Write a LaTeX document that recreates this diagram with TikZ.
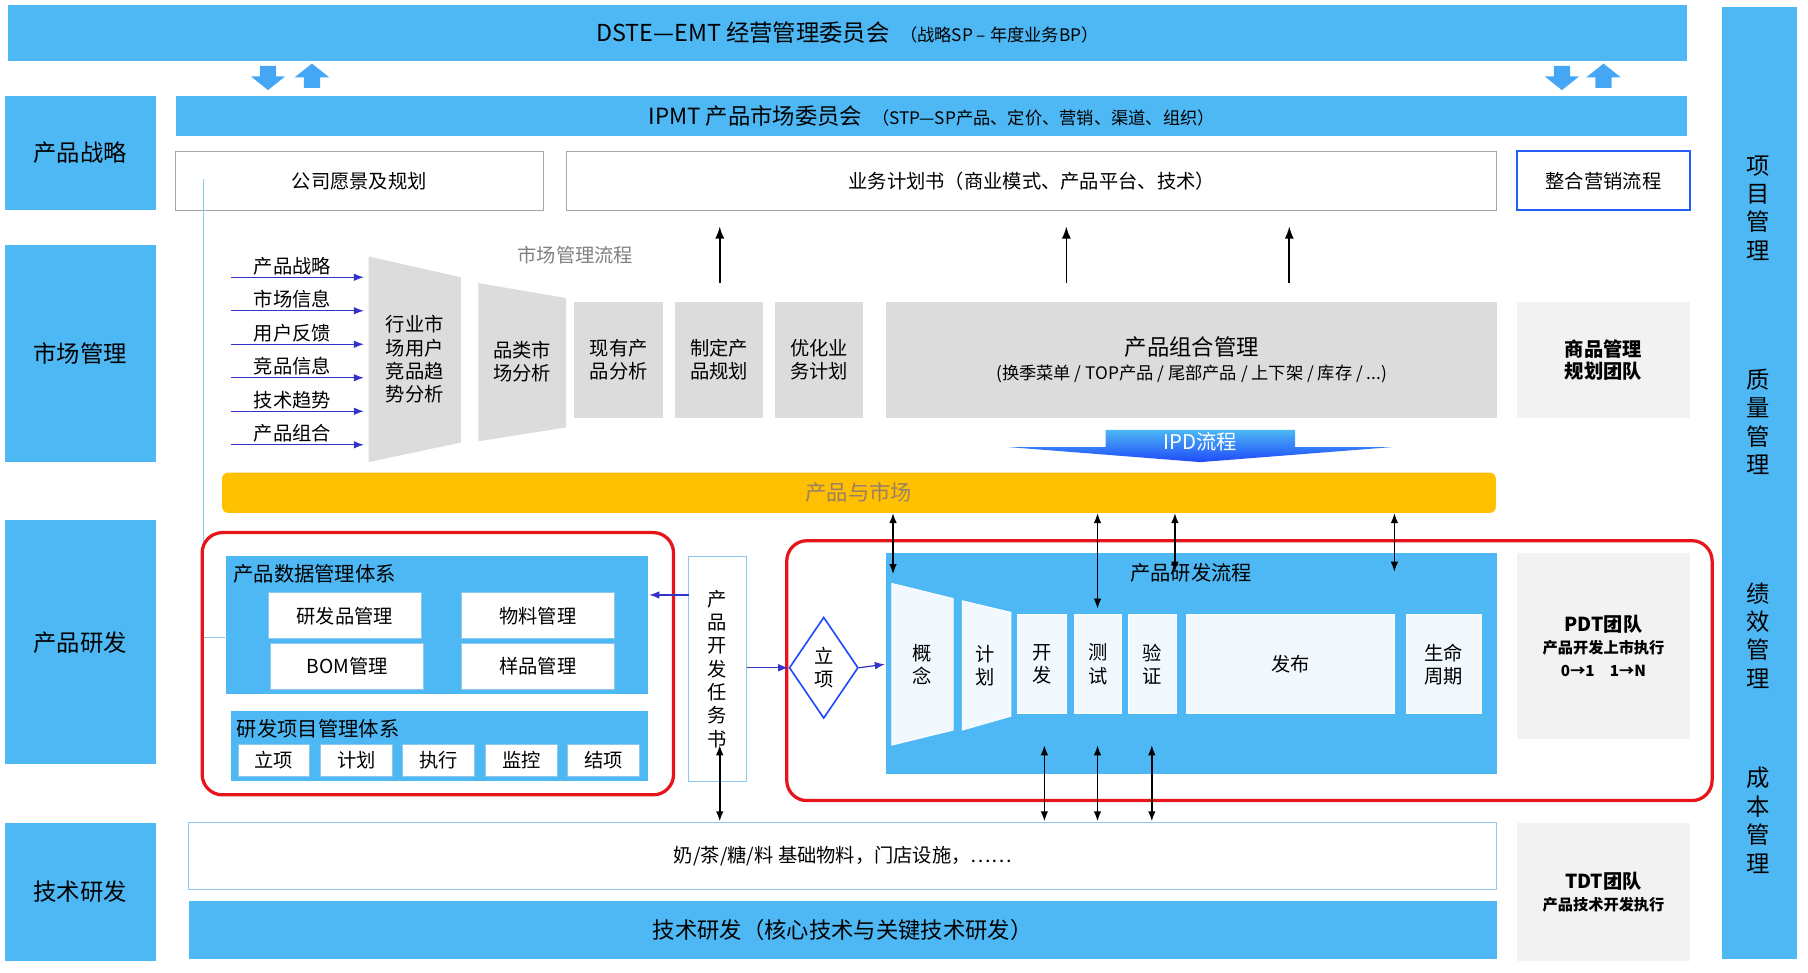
\documentclass[tikz,border=0pt]{standalone}
\usepackage{fontspec}
\setmainfont{Noto Sans CJK SC}
\usetikzlibrary{arrows.meta,shapes.geometric}
\definecolor{bl}{HTML}{4DB8F4}
\definecolor{gy}{HTML}{DCDCDC}
\definecolor{lg}{HTML}{F2F2F2}
\definecolor{yl}{HTML}{FFC000}
\definecolor{rd}{HTML}{E8141C}
\definecolor{ln}{HTML}{8EC8EE}
\newcommand\bx[7]{\node[#6,minimum width={(#4-#2)*0.5669pt},minimum height={(#5-#3)*0.5669pt}] (#1) at ({(#2+#4)/2},{(#3+#5)/2}) {#7};}
\tikzset{
 every node/.style={inner sep=1pt,align=center,font=\fontsize{9.5}{11.5}\selectfont},
 blue/.style={fill=bl,draw=none},
 side/.style={fill=bl,draw=none,font=\fontsize{11.5}{13}\selectfont},
 wbox/.style={fill=white,draw=gray!70,line width=0.4pt},
 ibox/.style={fill=white,draw=ln,line width=0.5pt},
 grey/.style={fill=gy,draw=none},
 team/.style={fill=lg,draw=none,font=\bfseries\fontsize{9.5}{11}\selectfont},
 red/.style={draw=rd,line width=1.6pt,rounded corners=10pt},
 dar/.style={{Latex[length=5pt]}-{Latex[length=5pt]},line width=0.8pt},
 uar/.style={-{Latex[length=6pt]},line width=0.8pt},
 bar/.style={-{Latex[length=5pt]},draw=blue!60!gray,line width=0.6pt},
 fat/.style={fill=bl!90!blue,draw=none},
}
\begin{document}
\begin{tikzpicture}[x=0.02cm,y=-0.02cm]
\useasboundingbox (0,0) rectangle (1565,842);
% top
\bx{dste}{4}{4}{1463}{53}{blue}{\fontsize{11.5}{13}\selectfont DSTE—EMT 经营管理委员会\ \ {\fontsize{8.5}{10}\selectfont（战略SP – 年度业务BP）}}
\bx{side}{1490}{4}{1556}{832}{blue}{}
\foreach \t/\y in {{项\\目\\管\\理}/180,{质\\量\\管\\理}/365,{绩\\效\\管\\理}/550,{成\\本\\管\\理}/710}
  \node[font=\fontsize{11.5}{14}\selectfont] at (1522,\y) {\t};
% fat arrows
\foreach \x/\d in {232/1,270/-1,1352/1,1388/-1}{
 \ifnum\d=1
 \fill[fat] (\x-7,57) -- (\x+7,57) -- (\x+7,66) -- (\x+15,66) -- (\x,78) -- (\x-15,66) -- (\x-7,66) -- cycle;
 \else
 \fill[fat] (\x-7,76) -- (\x+7,76) -- (\x+7,67) -- (\x+15,67) -- (\x,55) -- (\x-15,67) -- (\x-7,67) -- cycle;
 \fi}
% left side labels
\bx{s1}{4}{83}{135}{182}{side}{产品战略}
\bx{s2}{4}{212}{135}{400}{side}{市场管理}
\bx{s3}{4}{450}{135}{662}{side}{产品研发}
\bx{s4}{4}{712}{135}{832}{side}{技术研发}
% IPMT
\bx{ipmt}{150}{83}{1463}{118}{blue}{\fontsize{11}{13}\selectfont IPMT 产品市场委员会\ \ {\fontsize{8.5}{10}\selectfont（STP—SP产品、定价、营销、渠道、组织）}}
\bx{vis}{151}{131}{471}{182}{wbox}{公司愿景及规划}
\bx{plan}{489}{131}{1297}{182}{wbox}{业务计划书（商业模式、产品平台、技术）}
\bx{mkt}{1313}{131}{1463}{182}{fill=white,draw=blue!50!bl,line width=1pt}{整合营销流程}
% left thin line
\coordinate (l0) at (176,155);
\coordinate (l1) at (176,552);
\draw[ln,line width=0.6pt] (l0) -- (l1) -- (195,552);
% inputs
\foreach \t [count=\i] in {产品战略,市场信息,用户反馈,竞品信息,技术趋势,产品组合}{
  \node at (253,230+29*\i-29) {\t};
  \coordinate (a\i) at (200,240+29*\i-29);
  \coordinate (b\i) at (315,240+29*\i-29);
  \draw[bar] (a\i) -- (b\i);}
% trapezoids
\fill[gy] (319,222) -- (399,240) -- (399,383) -- (319,400) -- cycle;
\node at (359,311) {行业市\\场用户\\竞品趋\\势分析};
\fill[gy] (414,245) -- (490,258) -- (490,370) -- (414,382) -- cycle;
\node at (452,313) {品类市\\场分析};
\node[text=gray] at (498,221) {市场管理流程};
\bx{g1}{497}{261}{574}{362}{grey}{现有产\\品分析}
\bx{g2}{584}{261}{661}{362}{grey}{制定产\\品规划}
\bx{g3}{671}{261}{747}{362}{grey}{优化业\\务计划}
\bx{g4}{766}{261}{1297}{362}{grey}{{\fontsize{11}{13}\selectfont 产品组合管理}\\{\fontsize{8.5}{10}\selectfont (换季菜单 / TOP产品 / 尾部产品 / 上下架 / 库存 / ...)}}
\bx{team1}{1313}{261}{1463}{362}{team}{商品管理\\规划团队}
\foreach \x in {623,923,1116}{
 \coordinate (u\x) at (\x,245); \coordinate (v\x) at (\x,196);
 \draw[uar] (u\x) -- (v\x);}
% IPD
\shade[top color=bl,bottom color=blue!60!bl] (873,387) -- (957,387) -- (957,372) -- (1121,372) -- (1121,387) -- (1205,387) -- (1039,400) -- cycle;
\node[text=white,font=\fontsize{10}{12}\selectfont] at (1039,382) {IPD流程};
% yellow
\bx{pm}{190}{409}{1297}{444}{fill=yl,rounded corners=3pt}{\textcolor{gray!80!orange}{\fontsize{10.5}{12}\selectfont 产品与市场}}
% red 1
\draw[red] (175,461) rectangle (583,688);
\bx{pd}{195}{481}{562}{601}{blue}{}
\node[anchor=west,font=\fontsize{10}{12}\selectfont] at (200,497) {产品数据管理体系};
\bx{w1}{232}{513}{365}{553}{ibox}{研发品管理}
\bx{w2}{399}{513}{532}{553}{ibox}{物料管理}
\bx{w3}{234}{557}{367}{597}{ibox}{BOM管理}
\bx{w4}{399}{557}{532}{597}{ibox}{样品管理}
\bx{pj}{199}{615}{562}{676}{blue}{}
\node[anchor=west,font=\fontsize{10}{12}\selectfont] at (203,631) {研发项目管理体系};
\foreach \t/\a/\b in {立项/206/268,计划/277/340,执行/348/411,监控/420/483,结项/491/554}
  \bx{p\a}{\a}{644}{\b}{672}{ibox}{\t};
\bx{task}{596}{481}{646}{677}{ibox}{产\\品\\开\\发\\任\\务\\书}
\coordinate (t1) at (596,515); \coordinate (t2) at (562,515);
\draw[bar] (t1) -- (t2);
% red 2
\draw[red] (681,468) rectangle (1482,693);
\node[diamond,draw=blue!60!bl,fill=white,line width=0.8pt,minimum width=60*0.5669pt,minimum height=88*0.5669pt,inner sep=0] (lx) at (713,578) {立\\项};
\draw[bar] (task.east|-lx) -- (lx.west);
\bx{rd}{766}{478}{1297}{670}{blue}{}
\node[font=\fontsize{10}{12}\selectfont] at (1031,496) {产品研发流程};
\draw[bar] (lx.east) -- (766,575);
\fill[white!92!bl,draw=white] (772,505) -- (825,518) -- (825,632) -- (772,645) -- cycle;
\node at (798,575) {概\\念};
\fill[white!92!bl,draw=white] (833,520) -- (875,530) -- (875,620) -- (833,632) -- cycle;
\node at (853,576) {计\\划};
\tikzset{pbox/.style={fill=white!92!bl,draw=white}}
\bx{k1}{881}{532}{923}{618}{pbox}{开\\发}
\bx{k2}{930}{532}{971}{618}{pbox}{测\\试}
\bx{k3}{977}{532}{1018}{618}{pbox}{验\\证}
\bx{k4}{1027}{532}{1207}{618}{pbox}{发布}
\bx{k5}{1217}{532}{1282}{618}{pbox}{生命\\周期}
\bx{team2}{1313}{478}{1463}{640}{team}{PDT团队\\{\fontsize{7.5}{9}\selectfont 产品开发上市执行}\\{\fontsize{7.5}{9}\selectfont 0→1\quad 1→N}}
% bottom
\bx{base}{161}{712}{1298}{770}{ibox}{奶/茶/糖/料 基础物料，门店设施，……}
\bx{tech}{161}{780}{1298}{830}{blue}{\fontsize{11}{13}\selectfont 技术研发（核心技术与关键技术研发）}
\bx{team3}{1313}{712}{1463}{832}{team}{TDT团队\\{\fontsize{7.5}{9}\selectfont 产品技术开发执行}}
% double arrows
\foreach \x/\a/\b in {773/444/497,950/444/527,1017/444/495,1207/444/495,904/645/711,950/645/711,997/645/711,623/645/711}{
 \coordinate (da\x\a) at (\x,\a); \coordinate (db\x\a) at (\x,\b);
 \draw[dar] (da\x\a) -- (db\x\a);}
\end{tikzpicture}
\end{document}
